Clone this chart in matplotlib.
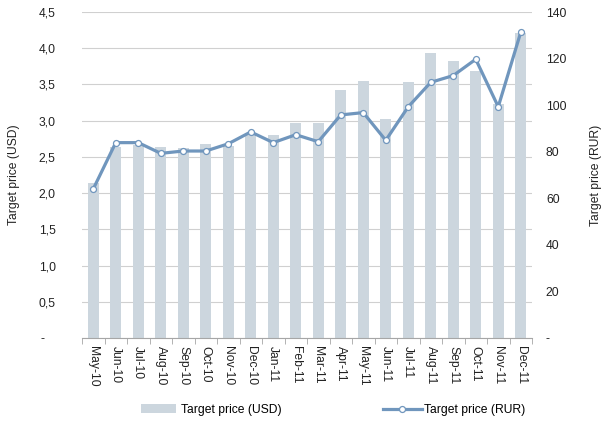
import matplotlib
matplotlib.use("Agg")
import matplotlib.pyplot as plt
from matplotlib.patches import Patch
from matplotlib.lines import Line2D
import numpy as np

plt.rcParams['font.family'] = ['Liberation Sans', 'DejaVu Sans']

months = ["May-10", "Jun-10", "Jul-10", "Aug-10", "Sep-10", "Oct-10", "Nov-10", "Dec-10",
          "Jan-11", "Feb-11", "Mar-11", "Apr-11", "May-11", "Jun-11", "Jul-11", "Aug-11",
          "Sep-11", "Oct-11", "Nov-11", "Dec-11"]
usd = [2.14, 2.64, 2.67, 2.64, 2.62, 2.68, 2.65, 2.83, 2.80, 2.97,
       2.97, 3.43, 3.55, 3.02, 3.54, 3.93, 3.82, 3.68, 3.23, 4.21]
rur = [64.0, 83.9, 83.9, 79.3, 80.3, 80.3, 83.4, 88.5, 83.9, 87.3,
       84.3, 95.8, 96.8, 84.9, 99.3, 109.8, 112.7, 119.7, 99.3, 131.3]
left_ticks = [0, 0.5, 1.0, 1.5, 2.0, 2.5, 3.0, 3.5, 4.0, 4.5]
left_labels = ["-   ", "0,5", "1,0", "1,5", "2,0", "2,5", "3,0", "3,5", "4,0", "4,5"]
right_ticks = [0, 20, 40, 60, 80, 100, 120, 140]
right_labels = ["-", "20", "40", "60", "80", "100", "120", "140"]

bar_color = "#CCD6DE"
line_color = "#7096BD"
grid_color = "#D0D0D0"
fs = 8.7

fig = plt.figure(figsize=(6.02, 4.25), dpi=100)
ax = fig.add_axes([82/602, 1-338/425, 450/602, 326/425])
x = np.arange(len(months))
ax.bar(x, usd, width=0.48, color=bar_color, zorder=2)
ax.set_xlim(-0.5, len(months)-0.5)
ax.set_ylim(0, 4.5)
ax.set_yticks(left_ticks)
ax.set_yticklabels(left_labels, fontsize=fs, color="#222222")
ax.yaxis.grid(True, color=grid_color, linewidth=0.8, zorder=0)
ax.set_axisbelow(True)
for s in ["left", "right", "top"]:
    ax.spines[s].set_visible(False)
ax.spines["bottom"].set_color("#A6A6A6")
ax.tick_params(axis="y", length=0, pad=19)
ax.set_xticks(x)
ax.set_xticklabels(months, rotation=270, fontsize=fs, color="#222222")
ax.tick_params(axis="x", length=0, pad=6)
ax.set_xticks(np.arange(-0.5, len(months)), minor=True)
ax.tick_params(axis="x", which="minor", length=4, color="#A6A6A6")
ax.set_ylabel("Target price (USD)", fontsize=fs, color="#222222")
ax.yaxis.set_label_coords(-0.137, 0.5)

ax2 = ax.twinx()
ax2.plot(x, rur, color=line_color, linewidth=2.3, marker="o", markersize=4.3,
         markerfacecolor="white", markeredgecolor=line_color, markeredgewidth=0.9, zorder=3)
ax2.set_ylim(0, 140)
ax2.set_yticks(right_ticks)
ax2.set_yticklabels(right_labels, fontsize=fs, color="#222222")
ax2.tick_params(axis="y", length=0, pad=10)
for s in ["left", "right", "top", "bottom"]:
    ax2.spines[s].set_visible(False)
ax2.set_ylabel("Target price (RUR)", fontsize=fs, color="#222222", rotation=90)
ax2.yaxis.set_label_coords(1.128, 0.5)

h1 = Patch(facecolor=bar_color, edgecolor="none")
h2 = Line2D([0], [0], color=line_color, linewidth=2.3, marker="o", markersize=4.3,
            markerfacecolor="white", markeredgecolor=line_color, markeredgewidth=0.9)
fig.legend([h1], ["Target price (USD)"], loc="center left", bbox_to_anchor=(141/602, 1-410/425),
           frameon=False, fontsize=fs, handlelength=2.9, handleheight=0.8, handletextpad=0.4,
           borderaxespad=0, borderpad=0)
fig.legend([h2], ["Target price (RUR)"], loc="center left", bbox_to_anchor=(383/602, 1-410/425),
           frameon=False, fontsize=fs, handlelength=3.2, handletextpad=0.2,
           borderaxespad=0, borderpad=0)

fig.savefig("out.png", dpi=100)
